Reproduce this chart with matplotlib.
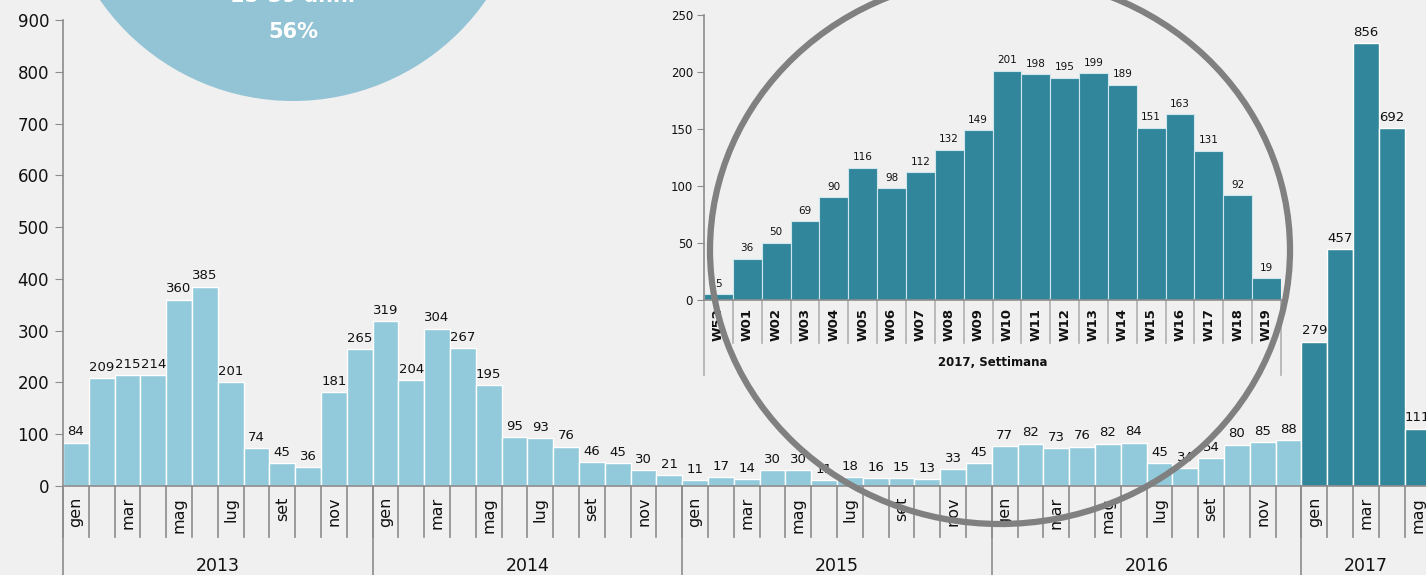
import matplotlib

matplotlib.use("Agg")
import matplotlib.pyplot as plt
from matplotlib.patches import Ellipse
from matplotlib.transforms import blended_transform_factory

# Monthly cases, 2013 - May 2017
years = ["2013", "2014", "2015", "2016", "2017"]
month_labels = ["gen", "", "mar", "", "mag", "", "lug", "", "set", "", "nov", ""]
cases_2013 = [84, 209, 215, 214, 360, 385, 201, 74, 45, 36, 181, 265]
cases_2014 = [319, 204, 304, 267, 195, 95, 93, 76, 46, 45, 30, 21]
cases_2015 = [11, 17, 14, 30, 30, 11, 18, 16, 15, 13, 33, 45]
cases_2016 = [77, 82, 73, 76, 82, 84, 45, 34, 54, 80, 85, 88]
cases_2017 = [279, 457, 856, 692, 111]

# Weekly cases 2017 (inset)
weeks = ["W52", "W01", "W02", "W03", "W04", "W05", "W06", "W07", "W08", "W09",
         "W10", "W11", "W12", "W13", "W14", "W15", "W16", "W17", "W18", "W19"]
week_cases = [5, 36, 50, 69, 90, 116, 98, 112, 132, 149,
              201, 198, 195, 199, 189, 151, 163, 131, 92, 19]

bubble_lines = ["15-39 anni", "56%"]

BG = "#f0f0f0"
LIGHT = "#92cadb"
DARK = "#31869b"
BUBBLE = "#93c4d5"
AXIS_GREY = "#8c8c8c"
RING_GREY = "#808080"

W, H = 1426, 575


def box(x0, y0, x1, y1):
    """Pixel box (top-left origin) -> figure fraction rect."""
    return [x0 / W, 1 - y1 / H, (x1 - x0) / W, (y1 - y0) / H]


fig = plt.figure(figsize=(W / 100, H / 100), dpi=100, facecolor=BG)

# ---- main monthly chart ----
series = [cases_2013, cases_2014, cases_2015, cases_2016, cases_2017]
values, colours, labels, groups = [], [], [], []
for yr, vals in zip(years, series):
    groups.append((yr, len(values), len(values) + len(vals)))
    for m, v in enumerate(vals):
        values.append(v)
        labels.append(month_labels[m])
        colours.append(DARK if yr == "2017" else LIGHT)

step = 25.8
ax = fig.add_axes(box(63, 20, 63 + len(values) * step, 486))
ax.set_facecolor("none")
x = list(range(len(values)))
ax.bar(x, values, width=1.0, color=colours, edgecolor="white", linewidth=1.0, zorder=2)
ax.set_xlim(-0.5, len(values) - 0.5)
ax.set_ylim(0, 900)
ax.set_yticks(range(0, 901, 100))
ax.tick_params(axis="y", labelsize=12, length=6, color=AXIS_GREY, pad=4, labelcolor="#111111")
ax.set_xticks([])
for s in ("top", "right"):
    ax.spines[s].set_visible(False)
for s in ("left", "bottom"):
    ax.spines[s].set_color(AXIS_GREY)
    ax.spines[s].set_linewidth(1.2)

for xi, v in zip(x, values):
    ax.annotate(str(v), (xi, v), xytext=(0, 3), textcoords="offset points",
                ha="center", va="bottom", fontsize=9.5, color="#111111", zorder=3)

tr = blended_transform_factory(ax.transData, ax.transAxes)
tick_bot = -51 / 466
year_bot = -89 / 466
for i in range(len(values) + 1):
    ax.plot([i - 0.5, i - 0.5], [0, tick_bot], transform=tr, color=AXIS_GREY,
            lw=1.2, clip_on=False)
for i, lab in enumerate(labels):
    if lab:
        ax.text(i, -11 / 466, lab, transform=tr, rotation=90, ha="center", va="top",
                fontsize=11.5, color="#111111")
for yr, a, b in groups:
    ax.plot([a - 0.5, a - 0.5], [0, year_bot], transform=tr, color=AXIS_GREY,
            lw=1.2, clip_on=False)
    ax.text((a + b - 1) / 2, -80 / 466, yr, transform=tr, ha="center", va="center",
            fontsize=12.5, color="#111111")

# ---- inset weekly chart ----
ins = fig.add_axes(box(704, 15, 1281, 300))
ins.set_facecolor("none")
wx = list(range(len(weeks)))
ins.bar(wx, week_cases, width=1.0, color=DARK, edgecolor="#cfe6ec", linewidth=0.8, zorder=2)
ins.set_xlim(-0.5, len(weeks) - 0.5)
ins.set_ylim(0, 250)
ins.set_yticks(range(0, 251, 50))
ins.tick_params(axis="y", labelsize=8.5, length=5, color=AXIS_GREY, pad=3, labelcolor="#111111")
ins.set_xticks([])
for s in ("top", "right"):
    ins.spines[s].set_visible(False)
for s in ("left", "bottom"):
    ins.spines[s].set_color(AXIS_GREY)
    ins.spines[s].set_linewidth(1.2)
for xi, v in zip(wx, week_cases):
    ins.annotate(str(v), (xi, v), xytext=(0, 4), textcoords="offset points",
                 ha="center", va="bottom", fontsize=7.5, color="#111111", zorder=3)

itr = blended_transform_factory(ins.transData, ins.transAxes)
for i in range(len(weeks) + 1):
    bot = -75 / 285 if i in (0, len(weeks)) else -43 / 285
    ins.plot([i - 0.5, i - 0.5], [0, bot], transform=itr, color="#b0b0b0",
             lw=1.2, clip_on=False)
for i, w in enumerate(weeks):
    ins.text(i, -8 / 285, w, transform=itr, rotation=90, ha="center", va="top",
             fontsize=9.5, fontweight="bold", color="#111111")
ins.text(0.5, -63 / 285, "2017, Settimana", transform=ins.transAxes, ha="center",
         va="center", fontsize=8.5, fontweight="bold", color="#111111")

# ---- overlay: age bubble and highlight ring ----
ov = fig.add_axes([0, 0, 1, 1], zorder=10)
ov.set_xlim(0, W)
ov.set_ylim(H, 0)
ov.axis("off")
ov.add_patch(Ellipse((293, -134), 470, 470, facecolor=BUBBLE, edgecolor="none"))
ov.text(293, -4, bubble_lines[0], ha="center", va="center", fontsize=15,
        fontweight="bold", color="white")
ov.text(293, 32, bubble_lines[1], ha="center", va="center", fontsize=15,
        fontweight="bold", color="white")
ov.add_patch(Ellipse((1000, 250), 580, 548, facecolor="none", edgecolor=RING_GREY, lw=4.5))

fig.savefig("out.png", dpi=100, facecolor=BG)
